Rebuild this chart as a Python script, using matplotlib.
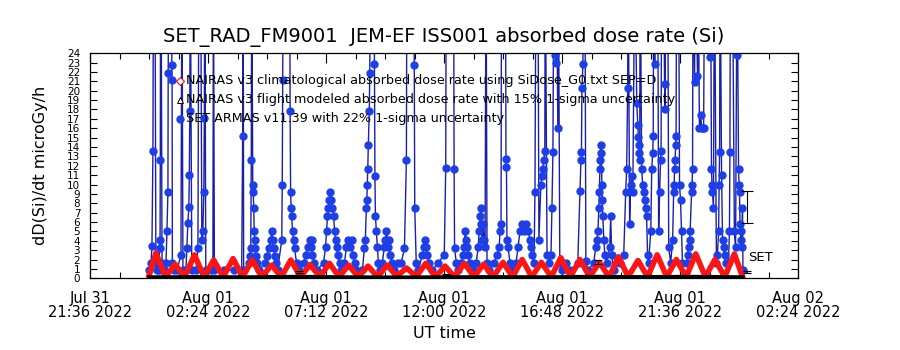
import matplotlib
matplotlib.use('Agg')
import matplotlib.pyplot as plt
from matplotlib.ticker import MultipleLocator, FixedLocator

# ---------------- data (hours since 2022-08-01 00:00 UT) ----------------
S = 35.0  # off-scale readings (clipped at top of chart)

xtick_pos = [-2.4, 2.4, 7.2, 12.0, 16.8, 21.6, 26.4]
xtick_labels = ['Jul 31\n21:36 2022', 'Aug 01\n02:24 2022', 'Aug 01\n07:12 2022',
                'Aug 01\n12:00 2022', 'Aug 01\n16:48 2022', 'Aug 01\n21:36 2022',
                'Aug 02\n02:24 2022']
ytick_pos = list(range(0, 25))

# NAIRAS v3 climatological absorbed dose rate
red_t = [0.00, 0.28, 0.67, 1.06, 1.45, 1.85, 2.24, 2.63, 3.02, 3.42, 3.81, 4.20, 4.59,
         4.98, 5.38, 5.77, 6.16, 6.55, 6.95, 7.34, 7.73, 8.12, 8.51, 8.91, 9.30, 9.69,
         10.08, 10.47, 10.87, 11.26, 11.65, 12.04, 12.43, 12.83, 13.22, 13.61, 14.00,
         14.40, 14.79, 15.18, 15.57, 15.96, 16.36, 16.75, 17.14, 17.53, 17.92, 18.32,
         18.71, 19.10, 19.49, 19.89, 20.28, 20.67, 21.06, 21.45, 21.85, 22.24, 22.63,
         23.02, 23.42, 23.81, 24.14]
red_v = [0.3, 2.7, 0.15, 1.5, 0.15, 2.5, 0.15, 1.95, 0.15, 2.1, 0.15, 1.95, 0.15, 1.4,
         0.15, 1.95, 0.15, 1.45, 0.15, 1.6, 0.15, 1.4, 0.15, 1.3, 0.15, 1.4, 0.2, 1.1,
         0.2, 1.6, 0.15, 1.3, 0.15, 1.6, 0.15, 1.5, 0.15, 1.7, 0.15, 2.0, 0.15, 1.7,
         0.15, 2.2, 0.15, 2.0, 0.15, 1.7, 0.15, 2.3, 0.15, 1.9, 0.15, 2.5, 0.15, 2.0,
         0.15, 2.6, 0.15, 2.0, 0.15, 2.6, 0.2]

# NAIRAS v3 flight modeled absorbed dose rate
black_t = [0.0, 2.0, 4.0, 6.0, 8.0, 10.0, 12.0, 14.0, 16.0, 18.0, 20.0, 22.0, 24.14]
black_v = [0.10, 0.12, 0.10, 0.15, 0.10, 0.08, 0.10, 0.12, 0.10, 0.15, 0.12, 0.15, 0.10]
nairas_err_t = [6.09, 12.09, 18.26, 24.34]
nairas_err_v = [0.67, 0.39, 1.74, 0.67]
nairas_err_e = [0.10, 0.06, 0.26, 0.10]

# SET ARMAS v11.39 measurements
blue_t = [
    0.00, 0.08, 0.12, 0.16, 0.18, 0.24, 0.28, 0.32,
    0.41, 0.43, 0.45, 0.46, 0.47, 0.49, 0.53, 0.61,
    0.69, 0.73, 0.77, 0.78, 0.81, 0.89, 0.93, 0.94, 0.95, 1.01,
    1.14, 1.30, 1.34, 1.38,
    1.50, 1.54, 1.58, 1.62, 1.64, 1.66, 1.68, 1.74,
    1.91, 1.99, 2.03, 2.10, 2.15, 2.19, 2.23, 2.25, 2.27, 2.31,
    2.52, 2.60, 2.62, 2.66,
    3.04, 3.45,
    3.77, 3.81, 3.83, 3.85,
    4.06, 4.10, 4.14, 4.16, 4.18, 4.22, 4.24, 4.26, 4.28, 4.30, 4.32, 4.34, 4.38, 4.46,
    4.71, 4.79, 4.87, 4.95, 4.99, 5.03, 5.07, 5.11, 5.15, 5.23,
    5.40, 5.42, 5.44, 5.46, 5.72, 5.74, 5.76, 5.78, 5.80, 5.84, 5.88, 5.92, 6.00, 6.09,
    6.29, 6.37, 6.45, 6.53, 6.57, 6.61, 6.65, 6.73, 6.82,
    7.10, 7.18, 7.22, 7.26, 7.30, 7.34, 7.38, 7.42, 7.46, 7.51, 7.55, 7.59, 7.63, 7.67, 7.75, 7.83,
    7.95, 8.03, 8.11, 8.19, 8.24, 8.28, 8.36, 8.44,
    8.68, 8.76, 8.80, 8.84, 8.86, 8.88, 8.90, 8.92, 8.96, 8.98, 9.01, 9.15, 9.17, 9.19, 9.21, 9.25, 9.29, 9.33, 9.41,
    9.49, 9.57, 9.61, 9.66, 9.70, 9.74, 9.78, 9.82, 9.90, 9.98,
    10.14, 10.26, 10.39, 10.47, 10.49, 10.77, 10.79, 10.81, 10.87, 10.95,
    11.12, 11.20, 11.24, 11.28, 11.32, 11.40, 11.52,
    11.76, 12.01, 12.07, 12.09, 12.39, 12.41, 12.43, 12.50, 12.58,
    12.70, 12.78, 12.82, 12.86, 12.90, 12.94, 12.98, 13.06, 13.18,
    13.31, 13.39, 13.43, 13.47, 13.49, 13.51, 13.55, 13.59, 13.63, 13.67, 13.71, 13.75, 13.83,
    14.04, 14.16, 14.24, 14.28, 14.32, 14.34, 14.50, 14.52, 14.54, 14.56, 14.60, 14.69, 14.77,
    14.93, 15.01, 15.09, 15.17, 15.25, 15.34, 15.42, 15.50, 15.54, 15.58, 15.66, 15.70, 15.74, 15.82,
    15.86, 15.94, 15.98, 16.02, 16.06, 16.10, 16.12, 16.19, 16.27,
    16.35, 16.39, 16.43, 16.47, 16.53, 16.55, 16.57, 16.63, 16.65, 16.71,
    16.80, 16.96, 17.12,
    17.44, 17.53, 17.57, 17.59, 17.61, 17.65, 17.67, 17.73, 17.77, 17.85,
    18.09, 18.17, 18.22, 18.26, 18.30, 18.32, 18.34, 18.36, 18.38, 18.40, 18.42, 18.44, 18.46, 18.50,
    18.54, 18.62, 18.74, 18.78, 18.82, 18.90,
    19.15, 19.31, 19.39, 19.43, 19.47, 19.49, 19.55, 19.59, 19.64, 19.68, 19.76, 19.84, 19.88, 19.90,
    19.92, 19.94, 19.96, 19.98, 20.04, 20.08, 20.12, 20.16, 20.20, 20.24, 20.28, 20.32,
    20.41, 20.45, 20.49, 20.51, 20.53, 20.57, 20.59, 20.69, 20.73, 20.77, 20.81, 20.83, 20.85, 20.93,
    20.97, 20.99, 21.02, 21.10, 21.14, 21.22,
    21.30, 21.34, 21.36, 21.38, 21.40, 21.42, 21.44, 21.46, 21.54, 21.58, 21.62, 21.66, 21.70,
    21.87, 21.91, 21.95, 21.99, 22.01, 22.07, 22.09, 22.11, 22.13, 22.19, 22.23, 22.31, 22.33, 22.39,
    22.44, 22.48, 22.52, 22.56, 22.60, 22.76, 22.80, 22.84, 22.88, 22.90, 22.92, 22.96, 23.00, 23.08,
    23.12, 23.17, 23.19, 23.21, 23.23, 23.29, 23.33, 23.37, 23.41, 23.45,
    23.57, 23.61, 23.63, 23.65, 23.73, 23.81, 23.86, 23.90, 23.92, 23.98, 24.00, 24.02, 24.04, 24.06,
    24.08, 24.12, 24.14, 24.16]
blue_v = [
    0.85, 1.65, 3.4, 13.6, S, S, 1.65, 0.85,
    0.85, 3.2, 4.1, 12.6, S, S, 1.65, 0.85,
    1.65, 5.0, 9.2, 21.9, S, S, 22.7, 21.1, 1.65, 0.85,
    0.85, 2.5, S, 0.85,
    0.85, 3.2, 5.9, 7.6, 11.0, 17.8, S, 0.85,
    0.85, 3.2, S, S, 4.1, 5.0, 9.2, 17.1, S, 0.85,
    0.85, 1.4, S, 0.85,
    0.85, 0.85,
    0.85, 15.2, S, 0.85,
    1.65, 2.4, 3.2, 12.6, S, 10.0, 9.2, 7.5, 5.0, 4.1, 3.2, 2.4, 1.65, 0.85,
    1.65, 2.4, 3.2, 4.1, 5.0, 4.1, 3.2, 2.4, 1.65, 0.85,
    4.1, 10.0, 21.1, S, S, 17.8, 9.2, 7.5, 6.6, 5.0, 4.1, 3.2, 1.65, 0.85,
    1.65, 2.5, 3.3, 4.1, 3.3, 4.1, 2.5, 1.65, 0.85,
    1.65, 3.3, 5.0, 6.6, 7.5, 8.4, 9.2, 8.4, 7.5, 6.6, 5.0, 4.1, 3.3, 2.5, 1.65, 0.85,
    1.65, 3.3, 4.1, 3.3, 4.1, 2.5, 1.65, 0.85,
    0.85, 3.2, 4.1, 7.5, 8.4, 10.0, 11.7, 14.2, 17.8, 21.9, S, S, 22.8, 10.9, 6.6, 5.0, 3.3, 1.65, 0.85,
    1.65, 3.3, 4.1, 5.0, 4.1, 3.3, 4.1, 2.5, 1.65, 0.85,
    1.65, 1.65, 3.2, 12.6, S, S, 22.7, 7.5, 1.65, 0.85,
    2.5, 3.3, 4.1, 3.3, 2.5, 1.65, 0.85,
    1.65, 2.5, 11.8, S, S, 11.7, 3.2, 1.65, 0.85,
    1.65, 2.5, 3.3, 5.0, 4.1, 3.3, 2.5, 1.65, 0.85,
    1.65, 3.3, 5.0, 6.6, 7.5, 5.8, 4.1, 5.8, 4.1, 3.3, S, 1.65, 0.85,
    1.65, 2.5, 3.3, 5.0, 5.8, S, S, 12.7, 11.9, 4.1, 3.3, 1.65, 0.85,
    1.65, 3.3, 5.0, 5.8, 5.0, 5.8, 5.0, 4.1, 3.3, 2.5, 1.65, 9.2, S, S,
    4.1, 10.0, 10.9, 11.7, 12.6, 13.6, S, 2.5, 1.65,
    2.5, 7.5, 13.5, S, 23.8, 23.0, S, 16.0, S, 1.65,
    0.85, 1.65, 0.85,
    1.65, 9.3, 12.6, 13.5, 20.3, 22.8, S, S, 1.8, 0.85,
    1.65, 3.3, 4.1, 5.0, 7.5, 9.2, 11.7, 12.6, 14.2, 13.4, 10.0, 8.3, 6.6, 4.1,
    2.5, 1.65, 3.3, 6.6, 2.5, 0.85,
    1.65, 2.5, 9.2, 11.7, 20.3, S, 5.8, 10.0, 10.9, 9.2, S, 18.7, 16.4, 15.1,
    14.2, 13.4, 12.6, S, 11.7, 10.0, 9.2, 8.4, 7.5, 6.6, 2.5, 1.65,
    5.0, 11.7, 13.4, 15.2, S, 22.8, S, S, 5.0, 9.2, 12.6, 13.6, S, S,
    20.7, 18.1, S, S, 3.3, 1.65,
    4.1, 9.2, 10.0, 11.7, 12.6, 14.2, 15.2, S, S, 9.9, 8.4, 5.0, 1.65,
    1.65, 2.5, 3.3, 4.1, 5.0, 9.2, 10.0, 11.7, S, 20.9, S, 21.6, S, 16.0,
    17.4, 16.0, 16.0, 16.0, S, S, 23.6, S, 11.7, 10.0, 9.2, 7.5, S, 1.65,
    2.5, 5.0, 10.0, 13.5, S, 11.0, 4.1, 3.3, 2.5, 1.65,
    1.65, 5.0, 13.5, S, S, 5.0, 3.3, 23.8, S, 11.7, 10.0, 9.2, 5.8, 5.0,
    4.1, 3.3, 7.5, 0.85]

set_err_t = [24.34]
set_err_v = [7.6]
set_err_e = [1.7]

title = 'SET_RAD_FM9001  JEM-EF ISS001 absorbed dose rate (Si)'
legend_lines = ['NAIRAS v3 climatological absorbed dose rate using SiDose_G0.txt SEP=D',
                'NAIRAS v3 flight modeled absorbed dose rate with 15% 1-sigma uncertainty',
                'SET ARMAS v11.39 with 22% 1-sigma uncertainty']

# ---------------- figure ----------------
plt.rcParams['font.family'] = ['DejaVu Sans']
fig = plt.figure(figsize=(9, 3.5), dpi=100)
ax = fig.add_axes([0.1, 0.2049, 0.7867, 0.643])

ax.plot(blue_t, blue_v, '-', color='#1a1fa8', lw=1.0, marker='o', ms=5.0,
        mfc='#1f3fe6', mec='#1f3fe6', zorder=2)
ax.plot(red_t, red_v, '-', color='#ff1414', lw=4.0, zorder=3, solid_joinstyle='round')
ax.plot(black_t, black_v, '-', color='black', lw=3.0, zorder=4)
ax.errorbar(nairas_err_t, nairas_err_v, yerr=nairas_err_e, fmt='none', ecolor='black',
            elinewidth=0.8, capsize=3, capthick=0.8, zorder=5)
ax.errorbar(set_err_t, set_err_v, yerr=set_err_e, fmt='none', ecolor='black',
            elinewidth=0.8, capsize=4, capthick=0.8, zorder=5)
ax.text(24.35, 2.2, 'SET', fontsize=9.5, ha='left', va='center')

ax.set_xlim(-2.4, 26.4)
ax.set_ylim(0, 24)
ax.xaxis.set_major_locator(FixedLocator(xtick_pos))
ax.set_xticklabels(xtick_labels, fontsize=10.5, linespacing=0.95)
ax.xaxis.set_minor_locator(MultipleLocator(1.2))
ax.yaxis.set_major_locator(FixedLocator(ytick_pos))
ax.set_yticklabels([str(v) for v in ytick_pos], fontsize=7.5)
ax.tick_params(which='both', direction='in', top=True, right=True, width=0.8)
ax.tick_params(axis='x', which='major', length=7, pad=9)
ax.tick_params(axis='x', which='minor', length=4)
ax.tick_params(axis='y', which='major', length=5, pad=7)
for sp in ax.spines.values():
    sp.set_linewidth(0.9)

ax.set_title(title, fontsize=14, pad=8)
ax.set_xlabel('UT time', fontsize=11.5, labelpad=4)
ax.set_ylabel('dD(Si)/dt microGy/h', fontsize=11.5, labelpad=14)

# legend (drawn as text with symbols, as in original)
lx_m, lx_t = 0.127, 0.136
rows = [0.878, 0.793, 0.709]
ax.plot([lx_m], [rows[0]], marker='D', ms=4, mfc='white', mec='#e01010', mew=0.8,
        transform=ax.transAxes, clip_on=False, zorder=6)
ax.plot([lx_m], [rows[1]], marker='^', ms=5, mfc='white', mec='black', mew=0.7,
        transform=ax.transAxes, clip_on=False, zorder=6)
ax.plot([lx_m], [rows[2]], marker='o', ms=5.0, mfc='#1f3fe6', mec='#1f3fe6',
        transform=ax.transAxes, clip_on=False, zorder=6)
for r, s in zip(rows, legend_lines):
    ax.text(lx_t, r, s, transform=ax.transAxes, fontsize=9.2, va='center', ha='left', zorder=6)

fig.savefig('out.png', dpi=100)
